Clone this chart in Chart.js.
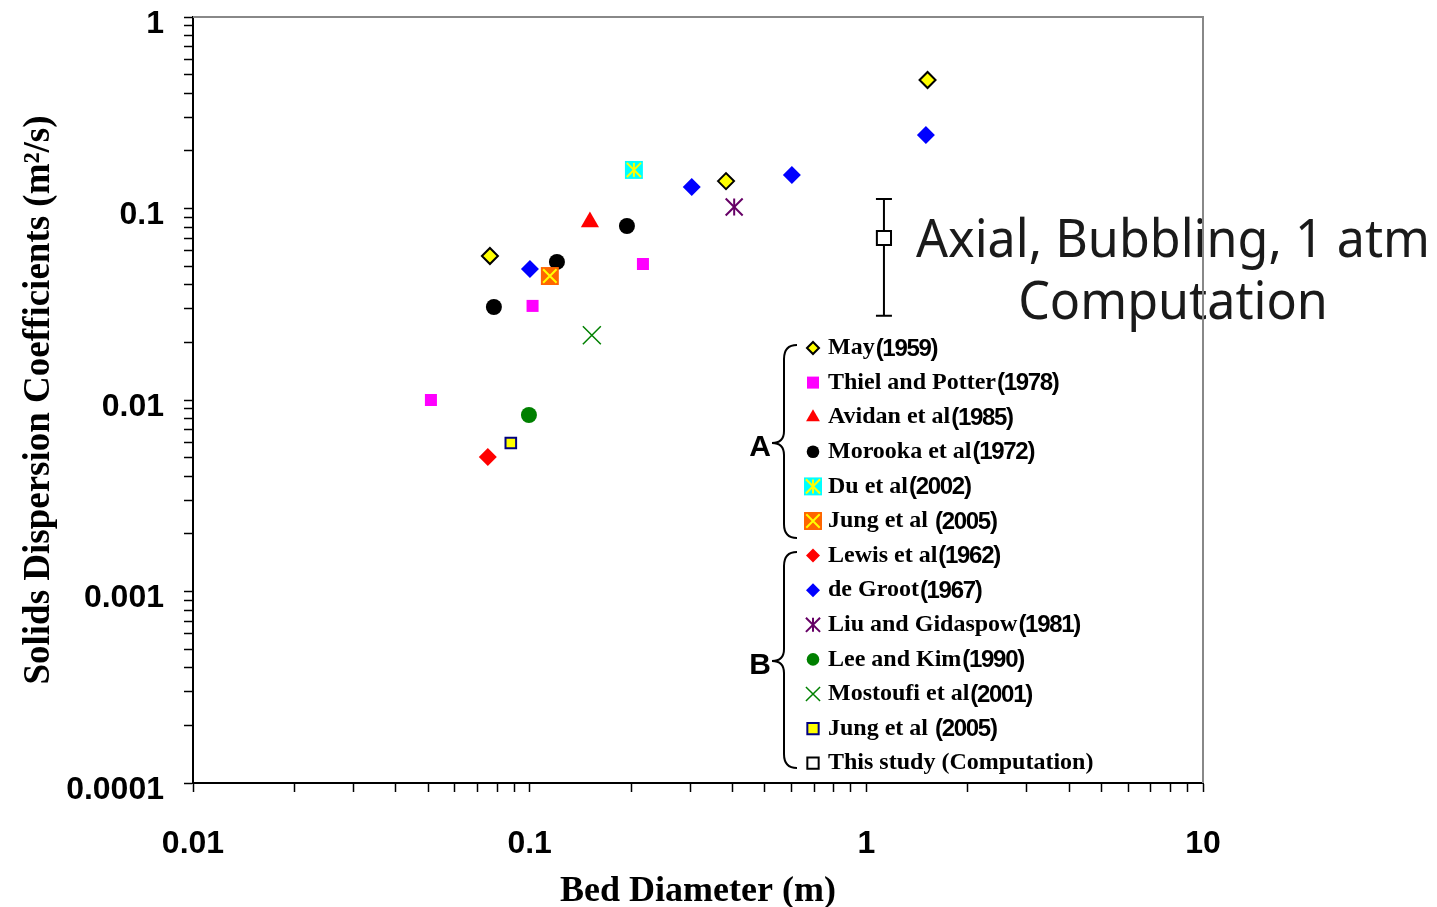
<!DOCTYPE html>
<html>
<head>
<meta charset="utf-8">
<title>Solids dispersion coefficients vs bed diameter</title>
<script src="https://cdn.jsdelivr.net/npm/chart.js@4.4.1/dist/chart.umd.min.js"></script>
<style>
  html, body { margin: 0; padding: 0; background: #fff; }
  #wrap { width: 1437px; height: 907px; }
</style>
</head>
<body>
<div id="wrap"><canvas id="chart" width="1437" height="907"></canvas></div>
<script>
// Bed diameter (m) and solids dispersion coefficient (m2/s), one pair of arrays per study
const mayX = [0.0762, 0.383, 1.52];
const mayY = [0.0565, 0.139, 0.469];
const thielX = [0.0509, 0.102, 0.217];
const thielY = [0.0100, 0.0310, 0.0513];
const avidanX = [0.151];
const avidanY = [0.085];
const morookaX = [0.0783, 0.1205, 0.1945];
const morookaY = [0.0306, 0.0526, 0.0810];
const duX = [0.204];
const duY = [0.159];
const jungAX = [0.1148];
const jungAY = [0.0444];
const lewisX = [0.0751];
const lewisY = [0.00504];
const deGrootX = [0.1002, 0.303, 0.601, 1.503];
const deGrootY = [0.0483, 0.1295, 0.1496, 0.242];
const liuX = [0.405];
const liuY = [0.1018];
const leeKimX = [0.0995];
const leeKimY = [0.00835];
const mostoufiX = [0.153];
const mostoufiY = [0.0218];
const jungBX = [0.0879];
const jungBY = [0.00596];

// computed result with its spread
const studyX = [1.128];
const studyY = [0.0701];
const studyHigh = [0.112];
const studyLow = [0.0275];

const seriesNames = [
  'May(1959)', 'Thiel and Potter(1978)', 'Avidan et al(1985)', 'Morooka et al(1972)',
  'Du et al(2002)', 'Jung et al (2005)', 'Lewis et al(1962)', 'de Groot(1967)',
  'Liu and Gidaspow(1981)', 'Lee and Kim(1990)', 'Mostoufi et al(2001)',
  'Jung et al (2005)', 'This study (Computation)'
];

const xTickValues = [0.01, 0.1, 1, 10];
const xTickLabels = ['0.01', '0.1', '1', '10'];
const yTickValues = [0.0001, 0.001, 0.01, 0.1, 1];
const yTickLabels = ['0.0001', '0.001', '0.01', '0.1', '1'];

const annotationLines = ['Axial, Bubbling, 1 atm', 'Computation'];

// marker layers: later layers are painted over earlier ones
const series = [
  { x: mayX, y: mayY, layers: [{ style: 'rectRot', r: 8, lr: 6, fill: '#ffff00', stroke: '#000000', bw: 2 }] },
  { x: thielX, y: thielY, layers: [{ style: 'rect', r: 8.5, lr: 8.5, fill: '#ff00ff', stroke: '#ff00ff', bw: 0 }] },
  { x: avidanX, y: avidanY, layers: [{ style: 'triangle', r: 10.5, lr: 8, fill: '#ff0000', stroke: '#ff0000', bw: 0 }] },
  { x: morookaX, y: morookaY, layers: [{ style: 'circle', r: 8, lr: 6.3, fill: '#000000', stroke: '#000000', bw: 0 }] },
  { x: duX, y: duY, layers: [
      { style: 'rect', r: 12.7, lr: 12.7, fill: '#00ffff', stroke: '#00ffff', bw: 0 },
      { style: 'line', rot: 90, r: 7, lr: 7, fill: '#ffff00', stroke: '#ffff00', bw: 2 },
      { style: 'crossRot', r: 10, lr: 10, fill: '#ffff00', stroke: '#ffff00', bw: 2 }] },
  { x: jungAX, y: jungAY, layers: [
      { style: 'rect', r: 12.7, lr: 12.7, fill: '#ff6600', stroke: '#ff6600', bw: 0 },
      { style: 'crossRot', r: 9.5, lr: 9.5, fill: '#ffff00', stroke: '#ffff00', bw: 2 }] },
  { x: lewisX, y: lewisY, layers: [{ style: 'rectRot', r: 9, lr: 7, fill: '#ff0000', stroke: '#ff0000', bw: 0 }] },
  { x: deGrootX, y: deGrootY, layers: [{ style: 'rectRot', r: 9, lr: 7, fill: '#0000ff', stroke: '#0000ff', bw: 0 }] },
  { x: liuX, y: liuY, layers: [
      { style: 'line', rot: 90, r: 8.5, lr: 7, fill: '#660066', stroke: '#660066', bw: 2 },
      { style: 'crossRot', r: 12, lr: 10, fill: '#660066', stroke: '#660066', bw: 2 }] },
  { x: leeKimX, y: leeKimY, layers: [{ style: 'circle', r: 8, lr: 6.3, fill: '#008000', stroke: '#008000', bw: 0 }] },
  { x: mostoufiX, y: mostoufiY, layers: [{ style: 'crossRot', r: 12.7, lr: 10, fill: '#008000', stroke: '#008000', bw: 1.5 }] },
  { x: jungBX, y: jungBY, layers: [{ style: 'rect', r: 7.5, lr: 8, fill: '#ffff00', stroke: '#000080', bw: 2 }] },
  { x: studyX, y: studyY, layers: [{ style: 'rect', r: 10, lr: 8, fill: '#ffffff', stroke: '#000000', bw: 2 }] }
];

const toPoints = (xs, ys) => xs.map((x, i) => ({ x, y: ys[i] }));

const datasets = [];
series.forEach((s, si) => {
  s.layers.forEach((l, li) => {
    datasets.push({
      label: seriesNames[si],
      data: toPoints(s.x, s.y),
      showLine: false,
      pointStyle: l.style,
      pointRotation: l.rot || 0,
      pointRadius: l.r,
      pointHoverRadius: l.r,
      pointBackgroundColor: l.fill,
      pointBorderColor: l.stroke,
      pointBorderWidth: l.bw,
      pointHoverBorderWidth: l.bw,
      order: -si - li * 100
    });
  });
});

// 1..9 per decade, majors at the powers of ten
function logTicks(decades) {
  const out = [];
  decades.forEach((d, i) => {
    if (i === decades.length - 1) { out.push({ value: d, major: true }); return; }
    for (let m = 1; m < 10; m++) out.push({ value: +(m * d).toPrecision(3), major: m === 1 });
  });
  return out;
}

function labelFor(values, labels) {
  return (v) => {
    const i = values.findIndex(t => Math.abs(t - v) / t < 1e-6);
    return i >= 0 ? labels[i] : '';
  };
}

function drawStretched(ctx, text, x, y, sx) {
  ctx.save();
  ctx.translate(x, y);
  ctx.scale(sx, 1);
  ctx.fillText(text, 0, 0);
  ctx.restore();
}

const errorBars = {
  id: 'errorBars',
  beforeDatasetsDraw(chart) {
    const { ctx, scales: { x, y } } = chart;
    ctx.save();
    ctx.strokeStyle = '#000';
    ctx.lineWidth = 2;
    studyX.forEach((v, i) => {
      const px = x.getPixelForValue(v);
      const top = y.getPixelForValue(studyHigh[i]);
      const bot = y.getPixelForValue(studyLow[i]);
      ctx.beginPath();
      ctx.moveTo(px, top); ctx.lineTo(px, bot);
      ctx.moveTo(px - 8, top); ctx.lineTo(px + 8, top);
      ctx.moveTo(px - 8, bot); ctx.lineTo(px + 8, bot);
      ctx.stroke();
    });
    ctx.restore();
  }
};

function drawBrace(ctx, top, tip, bottom) {
  const xEnd = 797, xv = 784, xTip = 772;
  ctx.beginPath();
  ctx.moveTo(xEnd, top);
  ctx.quadraticCurveTo(xv, top, xv, top + 14);
  ctx.lineTo(xv, tip - 12);
  ctx.quadraticCurveTo(xv, tip, xTip, tip);
  ctx.quadraticCurveTo(xv, tip, xv, tip + 12);
  ctx.lineTo(xv, bottom - 14);
  ctx.quadraticCurveTo(xv, bottom, xEnd, bottom);
  ctx.stroke();
}

const drawPoint = (Chart.helpers && Chart.helpers.drawPoint);

const notes = {
  id: 'notes',
  afterDatasetsDraw(chart) {
    const { ctx } = chart;
    ctx.save();

    // annotation for the computed point
    ctx.fillStyle = '#1a1a1a';
    ctx.font = '400 53px "Noto Sans"';
    ctx.textAlign = 'center';
    ctx.textBaseline = 'middle';
    const sx = 514 / ctx.measureText(annotationLines[0]).width;
    drawStretched(ctx, annotationLines[0], 1173, 242, sx);
    drawStretched(ctx, annotationLines[1], 1173, 304, sx);

    // grouped legend
    ctx.strokeStyle = '#000';
    ctx.lineWidth = 2;
    drawBrace(ctx, 345, 443, 538);
    drawBrace(ctx, 552, 661, 768);
    ctx.fillStyle = '#000';
    ctx.font = 'bold 30px "Liberation Sans"';
    ctx.textAlign = 'center';
    ctx.fillText('A', 760, 448);
    ctx.fillText('B', 760, 666);

    const mx = 813, tx = 828, top = 348, gap = 34.6;
    series.forEach((s, si) => {
      const yy = top + si * gap;
      s.layers.forEach(l => {
        ctx.fillStyle = l.fill;
        ctx.strokeStyle = l.stroke;
        ctx.lineWidth = l.bw;
        if (drawPoint) drawPoint(ctx, { pointStyle: l.style, radius: l.lr, rotation: l.rot || 0, borderWidth: l.bw }, mx, yy);
      });
      const m = seriesNames[si].match(/^(.*?)(\(\d{4}\))$/);
      const main = m ? m[1] : seriesNames[si];
      ctx.fillStyle = '#000';
      ctx.textAlign = 'left';
      ctx.textBaseline = 'middle';
      ctx.letterSpacing = '0px';
      ctx.font = 'bold 24px "Liberation Serif"';
      ctx.fillText(main, tx, yy);
      if (m) {
        const w = ctx.measureText(main).width;
        ctx.font = 'bold 24px "Liberation Sans"';
        ctx.letterSpacing = '-1.3px';
        ctx.fillText(m[2], tx + w + 1, yy + 1);
      }
      ctx.letterSpacing = '0px';
    });
    ctx.restore();
  },
  afterDraw(chart) {
    const { ctx, chartArea: a } = chart;
    ctx.save();
    ctx.strokeStyle = '#888';
    ctx.lineWidth = 2;
    ctx.beginPath();
    ctx.moveTo(a.left, a.top);
    ctx.lineTo(a.right, a.top);
    ctx.lineTo(a.right, a.bottom);
    ctx.stroke();
    ctx.restore();
  }
};

const tickFont = { family: '"Liberation Sans"', size: 32, weight: 'bold' };
const titleFont = { family: '"Liberation Serif"', size: 36, weight: 'bold', lineHeight: 1 };

new Chart(document.getElementById('chart'), {
  type: 'scatter',
  data: { datasets },
  options: {
    responsive: false,
    animation: false,
    events: [],
    devicePixelRatio: 1,
    layout: { padding: { top: 17, right: 234, bottom: 0, left: 0 } },
    plugins: { legend: { display: false }, tooltip: { enabled: false } },
    scales: {
      x: {
        type: 'logarithmic',
        position: 'bottom',
        min: 0.01,
        max: 10,
        afterBuildTicks: (s) => { s.ticks = logTicks(xTickValues); },
        afterFit: (s) => { s.height = 124; s.paddingLeft = 0; s.paddingRight = 0; },
        border: { display: true, color: '#000', width: 2 },
        grid: { drawOnChartArea: false, drawTicks: true, tickLength: 9, tickColor: '#000', tickWidth: 1.5 },
        ticks: { autoSkip: false, maxRotation: 0, padding: 33, color: '#000', font: tickFont, callback: labelFor(xTickValues, xTickLabels) },
        title: { display: true, text: 'Bed Diameter (m)', color: '#000', font: titleFont, padding: { top: 0, bottom: -3 } }
      },
      y: {
        type: 'logarithmic',
        position: 'left',
        min: 0.0001,
        max: 1,
        afterBuildTicks: (s) => { s.ticks = logTicks(yTickValues); },
        afterFit: (s) => { s.width = 193; s.paddingTop = 0; s.paddingBottom = 0; },
        border: { display: true, color: '#000', width: 2 },
        grid: { drawOnChartArea: false, drawTicks: true, tickLength: 9, tickColor: '#000', tickWidth: 1.5 },
        ticks: { autoSkip: false, padding: 20, labelOffset: 7, color: '#000', font: { ...tickFont, lineHeight: 1 }, callback: labelFor(yTickValues, yTickLabels) },
        title: { display: true, text: 'Solids Dispersion Coefficients (m²/s)', color: '#000', font: { ...titleFont, size: 37 }, padding: { top: 21, bottom: 0 } }
      }
    }
  },
  plugins: [errorBars, notes]
});
</script>
</body>
</html>
